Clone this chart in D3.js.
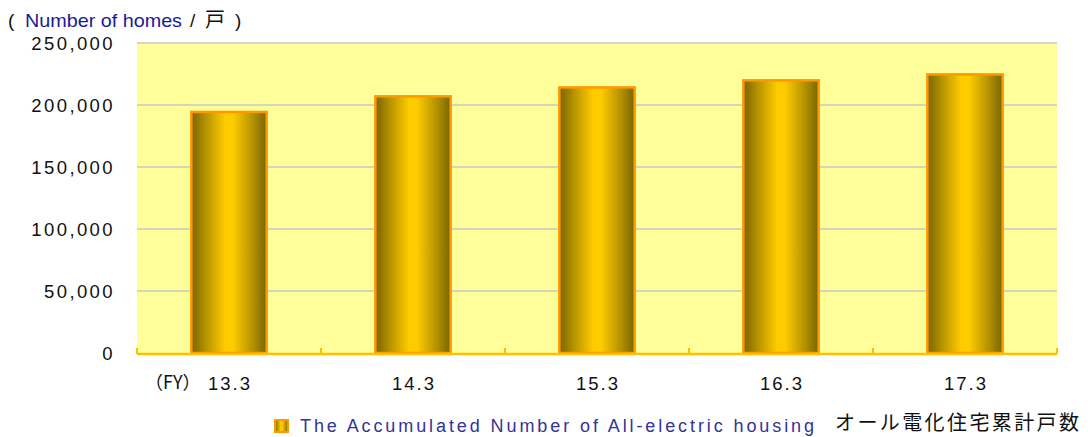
<!DOCTYPE html>
<html><head><meta charset="utf-8">
<script src="https://cdn.jsdelivr.net/npm/d3@7"></script>
<style>body{margin:0;background:#fff;}svg{display:block;}</style>
</head><body>
<svg id="c" width="1088" height="437"></svg>
<script>
const categories = ["13.3","14.3","15.3","16.3","17.3"];
const values = [195200, 207800, 215000, 220700, 225500];
const yTicks = [0, 50000, 100000, 150000, 200000, 250000];
const seriesName = "The Accumulated Number of All-electric housing";
const seriesNameJa = "オール電化住宅累計戸数";

const svg = d3.select("#c");
const L = 137, R = 1057, T = 43, B = 353;
const x = d3.scaleBand().domain(categories).range([L, R]).paddingInner(0.58).paddingOuter(0.29);
const xb = d3.scaleBand().domain(categories).range([L, R]);
const y = d3.scaleLinear().domain([0, 250000]).range([B, T]);

const defs = svg.append("defs");
const g = defs.append("linearGradient").attr("id","bg").attr("x1","0").attr("x2","1").attr("y1","0").attr("y2","0");
[[0,"#7a6400"],[0.2,"#b89500"],[0.45,"#ffcc00"],[0.55,"#ffcc00"],[0.8,"#b89500"],[1,"#7a6400"]].forEach(s=>g.append("stop").attr("offset",s[0]).attr("stop-color",s[1]));

svg.append("rect").attr("x",L).attr("y",T).attr("width",R-L).attr("height",B-T).attr("fill","#ffff99");

svg.append("g").selectAll("line").data(yTicks.filter(d=>d>0)).join("line")
  .attr("x1",L).attr("x2",R).attr("y1",d=>y(d)).attr("y2",d=>y(d))
  .attr("stroke","#c8c8c8").attr("stroke-width",1.5);

svg.append("g").selectAll("text").data(yTicks).join("text")
  .attr("x",115).attr("y",d=>y(d)+7).attr("text-anchor","end")
  .attr("font-family","Liberation Sans, Arial").attr("font-size",18.5).attr("letter-spacing",2.4)
  .attr("fill","#111").text(d=>d3.format(",")(d));

svg.append("g").selectAll("rect").data(values).join("rect")
  .attr("x",(d,i)=>x(categories[i])+1).attr("width",x.bandwidth()-2)
  .attr("y",d=>y(d)+1).attr("height",d=>B-y(d)-1)
  .attr("fill","url(#bg)").attr("stroke","#ff9900").attr("stroke-width",2.5);

// bottom axis
svg.append("line").attr("x1",L).attr("x2",R).attr("y1",B+1).attr("y2",B+1).attr("stroke","#ffc000").attr("stroke-width",2.5);
const bounds = categories.map(c=>xb(c)).concat([R]);
svg.append("g").selectAll("line").data(bounds).join("line")
  .attr("x1",d=>d).attr("x2",d=>d).attr("y1",B+1).attr("y2",B-5).attr("stroke","#ffc000").attr("stroke-width",2);

svg.append("g").selectAll("text").data(categories).join("text")
  .attr("x",d=>xb(d)+xb.bandwidth()/2+1).attr("y",390).attr("text-anchor","middle")
  .attr("font-family","Liberation Sans, Arial").attr("font-size",18.5).attr("letter-spacing",2)
  .attr("fill","#111").text(d=>d);
svg.append("text").attr("x",145).attr("y",389).attr("font-family","Noto Sans CJK JP").attr("font-size",18).attr("fill","#111").text("（FY）");

// title
const tf = "Liberation Sans, Arial";
svg.append("text").attr("x",8).attr("y",27).attr("font-family",tf).attr("font-size",19).attr("fill","#111").text("(");
svg.append("text").attr("x",25).attr("y",27).attr("font-family",tf).attr("font-size",19).attr("fill","#1a1a99")
  .attr("textLength",157).attr("lengthAdjust","spacingAndGlyphs").text("Number of homes");
svg.append("text").attr("x",190).attr("y",27).attr("font-family",tf).attr("font-size",19).attr("fill","#111").text("/");
svg.append("text").attr("x",205).attr("y",27).attr("font-family","Noto Sans CJK JP").attr("font-size",20).attr("fill","#111").text("戸");
svg.append("text").attr("x",235).attr("y",27).attr("font-family",tf).attr("font-size",19).attr("fill","#111").text(")");

// legend
svg.append("rect").attr("x",275).attr("y",420).attr("width",13).attr("height",12).attr("fill","url(#bg)").attr("stroke","#ff9900").attr("stroke-width",2);
svg.append("text").attr("x",300).attr("y",432).attr("font-family",tf).attr("font-size",18).
  attr("textLength",514).attr("lengthAdjust","spacing")
  .attr("fill","#333399").text(seriesName);
svg.append("text").attr("x",835).attr("y",430).attr("font-family","Noto Sans CJK JP").attr("font-size",20)
  .attr("textLength",244).attr("lengthAdjust","spacing").attr("fill","#111").text(seriesNameJa);
</script>
</body></html>
